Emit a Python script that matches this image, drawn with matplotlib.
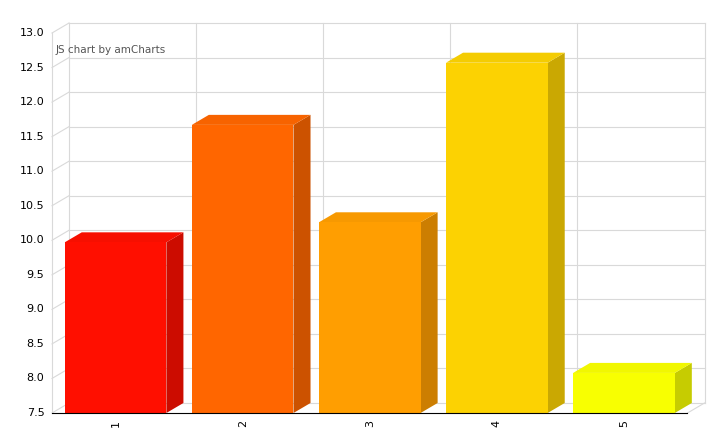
import matplotlib.pyplot as plt
from matplotlib.patches import Polygon
from matplotlib.colors import to_rgb

categories = ["1", "2", "3", "4", "5"]
values = [9.97, 11.67, 10.26, 12.57, 8.08]
colors = ["#FF0F00", "#FF6600", "#FF9E01", "#FCD202", "#F8FF01"]

ymin, ymax = 7.5, 13.0
yticks = [7.5 + 0.5 * i for i in range(12)]
dx, dy = 0.134, 0.145  # depth offset in data units
w = 0.8

fig = plt.figure(figsize=(7.17, 4.46), dpi=100)
ax = fig.add_axes([52 / 717, 33 / 446, 635.5 / 717, 380 / 446])
ax.set_xlim(0.5, 5.5)
ax.set_ylim(ymin, ymax)
ax.axis("off")

grid = "#d9d9d9"
# back plane horizontal grid + left wall diagonals
for t in yticks:
    ax.plot([0.5 + dx, 5.5 + dx], [t + dy, t + dy], color=grid, lw=0.8, clip_on=False, zorder=1)
    ax.plot([0.5, 0.5 + dx], [t, t + dy], color=grid, lw=0.8, clip_on=False, zorder=1)
    ax.text(0.5 - 0.06, t, "%.1f" % t, ha="right", va="center", fontsize=8, color="#000000")
for xb in [0.5, 1.5, 2.5, 3.5, 4.5, 5.5]:
    ax.plot([xb + dx, xb + dx], [ymin + dy, ymax + dy], color=grid, lw=0.8, clip_on=False, zorder=1)
# floor
ax.plot([5.5, 5.5 + dx], [ymin, ymin + dy], color=grid, lw=0.8, clip_on=False, zorder=1)
ax.plot([0.5, 0.5], [ymin, ymax], color=grid, lw=0.8, clip_on=False, zorder=1)

def shade(c, f):
    r, g, b = to_rgb(c)
    return (r * f, g * f, b * f)

for i, (v, c) in enumerate(zip(values, colors)):
    x0 = i + 1 - w / 2
    x1 = i + 1 + w / 2
    ax.add_patch(Polygon([(x1, ymin), (x1 + dx, ymin + dy), (x1 + dx, v + dy), (x1, v)],
                         closed=True, fc=shade(c, 0.8), ec="none", zorder=3, clip_on=False))
    ax.add_patch(Polygon([(x0, v), (x1, v), (x1 + dx, v + dy), (x0 + dx, v + dy)],
                         closed=True, fc=shade(c, 0.97), ec="none", zorder=3, clip_on=False))
    ax.bar(i + 1, v - ymin, bottom=ymin, width=w, color=c, zorder=4, clip_on=False)
    ax.text(i + 1, ymin - 0.1, categories[i], rotation=90, ha="center", va="top", fontsize=8)

ax.plot([0.5, 5.5], [ymin, ymin], color="#000000", lw=0.8, clip_on=False, zorder=5)
ax.text(0.53, 12.75, "JS chart by amCharts", fontsize=7.5, color="#555555", ha="left", va="center")

fig.savefig("out.png", dpi=100)
